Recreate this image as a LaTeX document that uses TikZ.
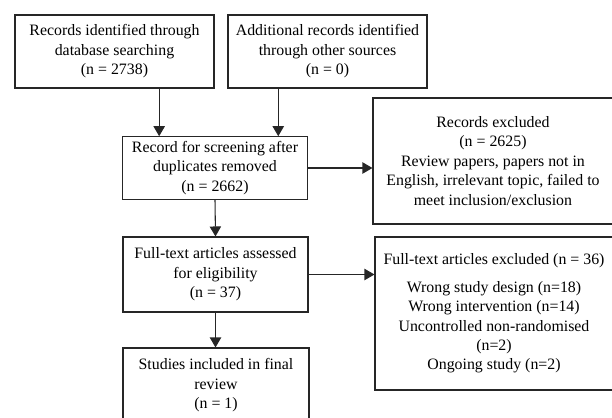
\documentclass[tikz,border=0pt]{standalone}
\usepackage{fontspec}
\setmainfont{Liberation Serif}
\usetikzlibrary{arrows.meta,calc}

\begin{document}
\begin{tikzpicture}[x=0.75pt,y=-0.75pt,
  box/.style={draw=black!85,line width=0.8pt,align=center,inner sep=0pt,
    font=\fontsize{11.9}{14.6}\selectfont},
  arr/.style={draw=black!85,line width=0.8pt,-{Triangle[width=8.5pt,length=7.5pt]}}]
  \useasboundingbox (0,0) rectangle (612,418);
  \clip (0,0) rectangle (612,418);

  \node[box,minimum width=149.25pt,minimum height=54.75pt] (0) at (114.5,51.5) {Records identified through\\database searching\\(n = 2738)};
  \node[box,minimum width=149.25pt,minimum height=54.75pt] (1) at (327.5,51.5) {Additional records identified\\through other sources\\(n = 0)};

  \node[box,minimum width=138.75pt,minimum height=46.9pt] (2) at (215,168) {Record for screening after\\duplicates removed\\(n = 2662)};
  \node[box,minimum width=180pt,minimum height=94.5pt] (5) at (493,161) {Records excluded\\(n = 2625)\\Review papers, papers not in\\English, irrelevant topic, failed to\\meet inclusion/exclusion};

  \node[box,minimum width=138.75pt,minimum height=56.25pt] (3) at (215.5,274.5) {Full-text articles assessed\\for eligibility\\(n = 37)};
  \node[box,minimum width=178.5pt,minimum height=114.75pt] (6) at (494,313.5) {Full-text articles excluded (n = 36)\\[6pt]Wrong study design (n=18)\\Wrong intervention (n=14)\\Uncontrolled non-randomised\\(n=2)\\Ongoing study (n=2)};

  \node[box,minimum width=139.5pt,minimum height=56.25pt] (4) at (216,385.5) {Studies included in final\\review\\(n = 1)};

  \coordinate (2a) at ($(2.north west)!0.2!(2.north east)$);
  \coordinate (2b) at ($(2.north west)!0.84!(2.north east)$);

  \draw[arr] (0.south -| 2a) -- (2a);
  \draw[arr] (1.south -| 2b) -- (2b);
  \draw[arr] (2.east) -- (2.east -| 5.west);
  \draw[arr] (2.south) -- (3.north);
  \draw[arr] (3.east) -- (3.east -| 6.west);
  \draw[arr] (3.south) -- (3.south |- 4.north);
\end{tikzpicture}
\end{document}
